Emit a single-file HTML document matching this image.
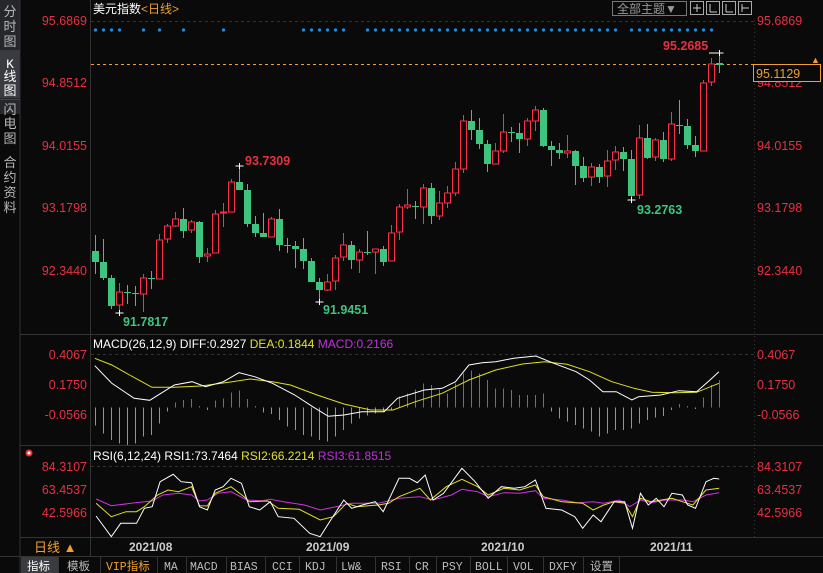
<!DOCTYPE html>
<html><head><meta charset="utf-8">
<style>
body{margin:0;background:#0a0a0b;width:823px;height:573px;overflow:hidden;font-family:"Liberation Sans","Noto Sans CJK SC",sans-serif;}
svg{position:absolute;left:0;top:0}
</style></head><body>
<svg id="s" width="823" height="573" xmlns="http://www.w3.org/2000/svg" font-family="Liberation Sans, Noto Sans CJK SC, sans-serif">
<rect width="823" height="573" fill="#0a0a0b"/>
<rect x="0" y="0" width="20" height="113" fill="#26272b"/>
<rect x="0" y="50" width="20" height="48" fill="#3a3b40"/>
<g fill="#b8b8b8" font-size="13" text-anchor="middle">
<text x="10" y="16">分</text><text x="10" y="31">时</text><text x="10" y="46">图</text>
<text x="10" y="68" fill="#fff" font-family="Liberation Mono">K</text><text x="10" y="81" fill="#fff">线</text><text x="10" y="95" fill="#fff">图</text>
</g>
<rect x="0" y="100" width="20" height="14" fill="#26272b"/>
<g fill="#b8b8b8" font-size="13" text-anchor="middle">
<text x="10" y="114">闪</text><text x="10" y="128">电</text><text x="10" y="143">图</text>
<text x="10" y="167">合</text><text x="10" y="182">约</text><text x="10" y="197">资</text><text x="10" y="212">料</text>
</g>
<rect x="0" y="99" width="20" height="1" fill="#444"/>
<g stroke="#333" stroke-width="1">
<line x1="90.5" y1="0" x2="90.5" y2="557"/>
<line x1="20" y1="334.5" x2="823" y2="334.5"/>
<line x1="20" y1="445.5" x2="823" y2="445.5"/>
<line x1="20" y1="537.5" x2="823" y2="537.5"/>
<line x1="0" y1="556.5" x2="823" y2="556.5"/>
<line x1="20" y1="0" x2="20" y2="573"/>
</g>
<line x1="754.5" y1="20" x2="754.5" y2="537" stroke="#333" stroke-dasharray="1,3"/>
<g stroke="#333" stroke-dasharray="3,3">
<line x1="91" y1="21.5" x2="754" y2="21.5"/>
<line x1="91" y1="354.5" x2="754" y2="354.5"/>
<line x1="91" y1="466.5" x2="754" y2="466.5"/>
</g>
<g fill="#e8303f" font-size="12.5">
<g text-anchor="end">
<text x="87" y="25">95.6869</text><text x="87" y="87">94.8512</text><text x="87" y="150">94.0155</text><text x="87" y="212">93.1798</text><text x="87" y="275">92.3440</text>
<text x="87" y="359">0.4067</text><text x="87" y="389">0.1750</text><text x="87" y="419">-0.0566</text>
<text x="87" y="471">84.3107</text><text x="87" y="494">63.4537</text><text x="87" y="517">42.5966</text>
</g>
<text x="757" y="25">95.6869</text><text x="757" y="87">94.8512</text><text x="757" y="150">94.0155</text><text x="757" y="212">93.1798</text><text x="757" y="275">92.3440</text>
<text x="757" y="359">0.4067</text><text x="757" y="389">0.1750</text><text x="757" y="419">-0.0566</text>
<text x="757" y="471">84.3107</text><text x="757" y="494">63.4537</text><text x="757" y="517">42.5966</text>
</g>
<text x="93" y="13" font-size="12" fill="#fff">美元指数<tspan fill="#f0a030">&lt;日线&gt;</tspan></text>
<rect x="612.5" y="1.5" width="74" height="14" fill="none" stroke="#777"/>
<text x="617" y="13" font-size="12" fill="#999">全部主题▼</text>
<g fill="none" stroke="#aaa">
<rect x="690.5" y="1.5" width="13" height="13"/><rect x="706.5" y="1.5" width="13" height="13"/><rect x="722.5" y="1.5" width="13" height="13"/><rect x="738.5" y="1.5" width="13" height="13"/>
</g>
<g stroke="#ccc"><line x1="697" y1="4" x2="697" y2="12"/><line x1="693" y1="8" x2="701" y2="8"/>
<line x1="710" y1="4" x2="710" y2="12"/><line x1="710" y1="12" x2="717" y2="12"/><line x1="726" y1="4" x2="726" y2="12"/><line x1="726" y1="12" x2="733" y2="12"/><line x1="742" y1="4" x2="742" y2="12"/><line x1="742" y1="8" x2="749" y2="8"/></g>
<line x1="91" y1="64.5" x2="754" y2="64.5" stroke="#f0a030" stroke-dasharray="3,3"/>
<rect x="753.5" y="64.5" width="67" height="17" fill="#0a0a0b" stroke="#f0a030"/>
<text x="756" y="78" font-size="12.5" fill="#f0a030">95.1129</text>
<text x="811" y="63" font-size="9" fill="#f0a030">▲</text>
<g font-size="12.5" font-weight="bold">
<text x="663" y="50" fill="#e8303f">95.2685</text>
<text x="245" y="165" fill="#e8303f">93.7309</text>
<text x="123" y="326" fill="#3ec47f">91.7817</text>
<text x="323" y="314" fill="#3ec47f">91.9451</text>
<text x="637" y="214" fill="#3ec47f">93.2763</text>
</g>
<text x="93" y="348" font-size="12" fill="#fff">MACD(26,12,9) DIFF:0.2927 <tspan fill="#e0e030">DEA:0.1844</tspan> <tspan fill="#c030e0">MACD:0.2166</tspan></text>
<text x="93" y="460" font-size="12" fill="#fff">RSI(6,12,24) RSI1:73.7464 <tspan fill="#e0e030">RSI2:66.2214</tspan> <tspan fill="#c030e0">RSI3:61.8515</tspan></text>
<circle cx="29" cy="453" r="3.5" fill="#e8303f"/><circle cx="29" cy="453" r="1.5" fill="#fff"/>
<g font-size="12" fill="#ccc" font-weight="bold">
<text x="129" y="551">2021/08</text><text x="306" y="551">2021/09</text><text x="481" y="551">2021/10</text><text x="650" y="551">2021/11</text>
</g>
<text x="34" y="552" font-size="13" fill="#f0a030">日线 ▲</text>
<rect x="21" y="557" width="37" height="16" fill="#3a3b40"/>
<g font-size="11.5" fill="#bbb" font-family="Liberation Mono, Noto Sans CJK SC, monospace">
<text x="27" y="570" fill="#fff">指标</text><text x="67" y="570">模板</text><text x="106" y="570" fill="#f0a030">VIP指标</text>
<text x="164" y="570">MA</text><text x="190" y="570">MACD</text><text x="230" y="570">BIAS</text><text x="272" y="570">CCI</text><text x="305" y="570">KDJ</text><text x="341" y="570">LW&amp;</text><text x="381" y="570">RSI</text><text x="415" y="570">CR</text><text x="442" y="570">PSY</text><text x="475" y="570">BOLL</text><text x="513" y="570">VOL</text><text x="549" y="570">DXFY</text><text x="590" y="570">设置</text>
</g>
<g stroke="#333"><line x1="58.5" y1="557" x2="58.5" y2="573"/><line x1="100.5" y1="557" x2="100.5" y2="573"/><line x1="157.5" y1="557" x2="157.5" y2="573"/><line x1="186.5" y1="557" x2="186.5" y2="573"/><line x1="226.5" y1="557" x2="226.5" y2="573"/><line x1="265.5" y1="557" x2="265.5" y2="573"/><line x1="299.5" y1="557" x2="299.5" y2="573"/><line x1="336.5" y1="557" x2="336.5" y2="573"/><line x1="375.5" y1="557" x2="375.5" y2="573"/><line x1="409.5" y1="557" x2="409.5" y2="573"/><line x1="436.5" y1="557" x2="436.5" y2="573"/><line x1="470.5" y1="557" x2="470.5" y2="573"/><line x1="507.5" y1="557" x2="507.5" y2="573"/><line x1="543.5" y1="557" x2="543.5" y2="573"/><line x1="583.5" y1="557" x2="583.5" y2="573"/><line x1="619.5" y1="557" x2="619.5" y2="573"/></g>
<g id="dyn"></g>
</svg>
<script>
var C=[
['g',251,262,235,274],['g',262,278,239,280],['g',278,306,275,309],['r',292,305,283,313],['g',292,292,285,304],['g',293,293,286,306],['r',278,294,274,312],['g',278,278,271,289],['r',240,279,234,279],['r',226,239,224,243],
['r',219,226,212,227],['g',219,231,208,238],['r',222,230,220,233],['g',222,257,221,263],['r',254,256,248,262],['r',214,253,210,253],['r',212,213,203,227],['r',182,212,179,212],['g',182,190,166,190],['g',190,224,184,227],
['g',224,233,216,237],['g',233,237,213,237],['r',219,237,217,237],['g',219,245,209,251],['g',245,245,238,253],['g',246,249,241,268],['g',249,261,238,269],['g',261,282,258,282],['g',282,290,278,302],['r',282,290,274,291],
['r',258,281,255,290],['r',245,257,233,261],['g',245,260,241,269],['r',252,260,249,273],['g',252,252,231,255],['r',249,252,249,274],['g',249,262,246,266],['r',233,261,225,261],['r',207,232,204,240],['r',205,207,189,209],
['g',206,206,201,219],['r',188,207,184,224],['g',188,216,183,224],['r',203,216,191,220],['r',193,203,186,208],['r',169,193,162,196],['r',121,169,115,173],['g',121,130,110,140],['g',130,144,118,149],['g',144,164,140,172],
['r',151,164,143,164],['r',132,151,114,153],['g',132,132,127,142],['g',133,139,123,153],['r',121,139,118,146],['r',110,121,106,131],['g',110,146,108,147],['g',146,150,141,166],['g',150,153,143,159],['r',151,153,135,158],
['g',151,166,150,185],['g',166,178,157,182],['r',167,177,163,186],['g',167,177,164,183],['r',161,176,150,187],['r',152,160,146,170],['g',152,159,147,171],['g',159,196,150,200],['r',138,195,125,199],['g',138,158,124,159],
['r',140,157,138,161],['g',140,159,132,162],['r',124,159,112,161],['g',125,125,100,134],['g',126,145,119,149],['g',145,151,136,157],['r',83,151,80,151],['r',64,82,58,86],['g',63,65,53,73]];
var RED='#ff3047',GRN='#3ec47f';
function X(i){return 95.5+8*i;}
var h='';
C.forEach(function(c,i){var x=X(i),col=c[0]=='r'?RED:GRN;
h+='<line x1="'+x+'" y1="'+c[3]+'" x2="'+x+'" y2="'+c[4]+'" stroke="'+col+'"/>';
var bh=Math.max(c[2]-c[1],1);
if(c[0]=='r') h+='<rect x="'+(x-3)+'" y="'+c[1]+'" width="6" height="'+bh+'" fill="#0a0a0b" stroke="'+col+'"/>';
else h+='<rect x="'+(x-3.5)+'" y="'+c[1]+'" width="7" height="'+bh+'" fill="'+col+'"/>';
});
[[3,313],[18,166],[28,302],[67,200],[78,53]].forEach(function(m){var x=X(m[0]);h+='<g stroke="#fff"><line x1="'+(x-4)+'" y1="'+m[1]+'" x2="'+(x+4)+'" y2="'+m[1]+'"/><line x1="'+x+'" y1="'+(m[1]-3)+'" x2="'+x+'" y2="'+(m[1]+3)+'"/></g>';});
h+='<line x1="709" y1="53" x2="720" y2="53" stroke="#fff"/>';
var D=[0,1,2,3,6,8,11,16];for(var i=26;i<=31;i++)D.push(i);for(i=34;i<=65;i++)D.push(i);for(i=67;i<=77;i++)D.push(i);
D.forEach(function(i){h+='<circle cx="'+X(i)+'" cy="30" r="1.6" fill="#1e8de0"/>';});
var HB=[287,310,330,340,345,340,320,315,280,245,218,210,207,228,240,212,205,188,182,207,228,248,252,270,290,300,315,320,330,335,320,300,280,265,257,250,245,240,200,190,178,160,165,178,190,160,130,122,130,150,175,175,180,195,195,195,190,245,265,275,285,295,305,320,310,300,300,295,280,270,262,258,240,222,228,237,202,165,150];
var Z=407.5;
HB.forEach(function(v,i){if(i>78)return;var y=330+v/3;var col=y<Z?RED:'#3ec47f';var x=Math.floor(X(i));h+='<rect x="'+x+'" y="'+Math.min(Z,y).toFixed(1)+'" width="1" height="'+Math.abs(y-Z).toFixed(1)+'" fill="'+col+'" shape-rendering="crispEdges"/>';});
function pl(pts,sx,ox,oy,col){var s=pts.map(function(p){return (ox+p[0]/sx).toFixed(1)+','+(oy+p[1]/3).toFixed(1);}).join(' ');return '<polyline points="'+s+'" fill="none" stroke="'+col+'" stroke-width="1"/>';}
var DIFF=[[22,107],[60,160],[110,205],[145,211],[200,165],[240,155],[270,170],[310,155],[345,128],[380,140],[420,160],[470,195],[510,230],[545,259],[580,255],[620,245],[670,245],[700,205],[760,180],[800,175],[830,155],[860,105],[890,98],[920,95],[960,85],[1010,78],[1050,100],[1100,125],[1130,150],[1160,185],[1190,185],[1225,210],[1240,200],[1290,195],[1330,182],[1370,185],[1400,150],[1420,125]];
var DEA=[[22,85],[60,105],[100,135],[150,172],[200,172],[260,168],[330,155],[370,147],[420,155],[460,165],[520,195],[580,222],[640,240],[690,240],[740,215],[800,190],[860,150],[920,120],[980,102],[1030,95],[1080,103],[1130,125],[1180,155],[1230,175],[1270,187],[1320,188],[1370,187],[1420,160]];
h+=pl(DEA,2.24,85,330,'#e0e020');h+=pl(DIFF,2.24,85,330,'#fff');
var R1=[[183,228],[212,290],[230,250],[260,250],[275,205],[290,200],[305,125],[330,103],[345,125],[365,128],[380,200],[395,210],[410,150],[425,140],[440,115],[460,130],[475,200],[495,210],[515,185],[530,230],[560,235],[590,280],[610,290],[630,240],[655,180],[670,205],[690,195],[715,185],[730,215],[760,115],[780,115],[795,128],[810,105],[825,180],[845,160],[880,85],[905,125],[930,175],[955,140],[980,145],[1000,140],[1020,120],[1040,205],[1070,210],[1095,230],[1110,265],[1130,225],[1145,245],[1170,185],[1190,185],[1205,265],[1220,160],[1235,195],[1250,175],[1265,200],[1280,160],[1300,165],[1310,195],[1325,205],[1345,125],[1360,115],[1370,117]];
var R2=[[183,190],[212,230],[240,215],[260,215],[275,200],[300,165],[320,150],[340,155],[365,140],[380,197],[395,198],[410,160],[440,140],[465,170],[475,185],[510,183],[530,205],[570,208],[610,240],[635,230],[660,190],[680,200],[720,195],[740,190],[760,170],[800,145],[820,180],[850,140],[880,118],[910,140],[930,165],[960,145],[990,150],[1020,135],[1035,170],[1070,185],[1110,190],[1130,210],[1150,195],[1170,185],[1190,190],[1205,230],[1220,175],[1240,185],[1260,180],[1280,175],[1300,185],[1320,195],[1345,150],[1370,145]];
var R3=[[183,177],[212,197],[250,190],[275,185],[290,183],[310,165],[340,160],[365,165],[380,183],[395,180],[415,160],[440,155],[470,180],[500,182],[515,178],[540,185],[580,195],[610,210],[640,200],[670,190],[720,190],[760,175],[800,170],[825,180],[860,165],[880,148],[910,155],[930,170],[960,158],[990,160],[1020,152],[1035,175],[1070,180],[1100,188],[1130,185],[1150,190],[1180,180],[1200,200],[1220,180],[1240,188],[1270,180],[1300,180],[1320,185],[1345,165],[1370,158]];
h+=pl(R3,1.905,0,440,'#d030e0');h+=pl(R2,1.905,0,440,'#e0e020');h+=pl(R1,1.905,0,440,'#fff');
document.getElementById('dyn').innerHTML=h;
</script>
</body></html>
